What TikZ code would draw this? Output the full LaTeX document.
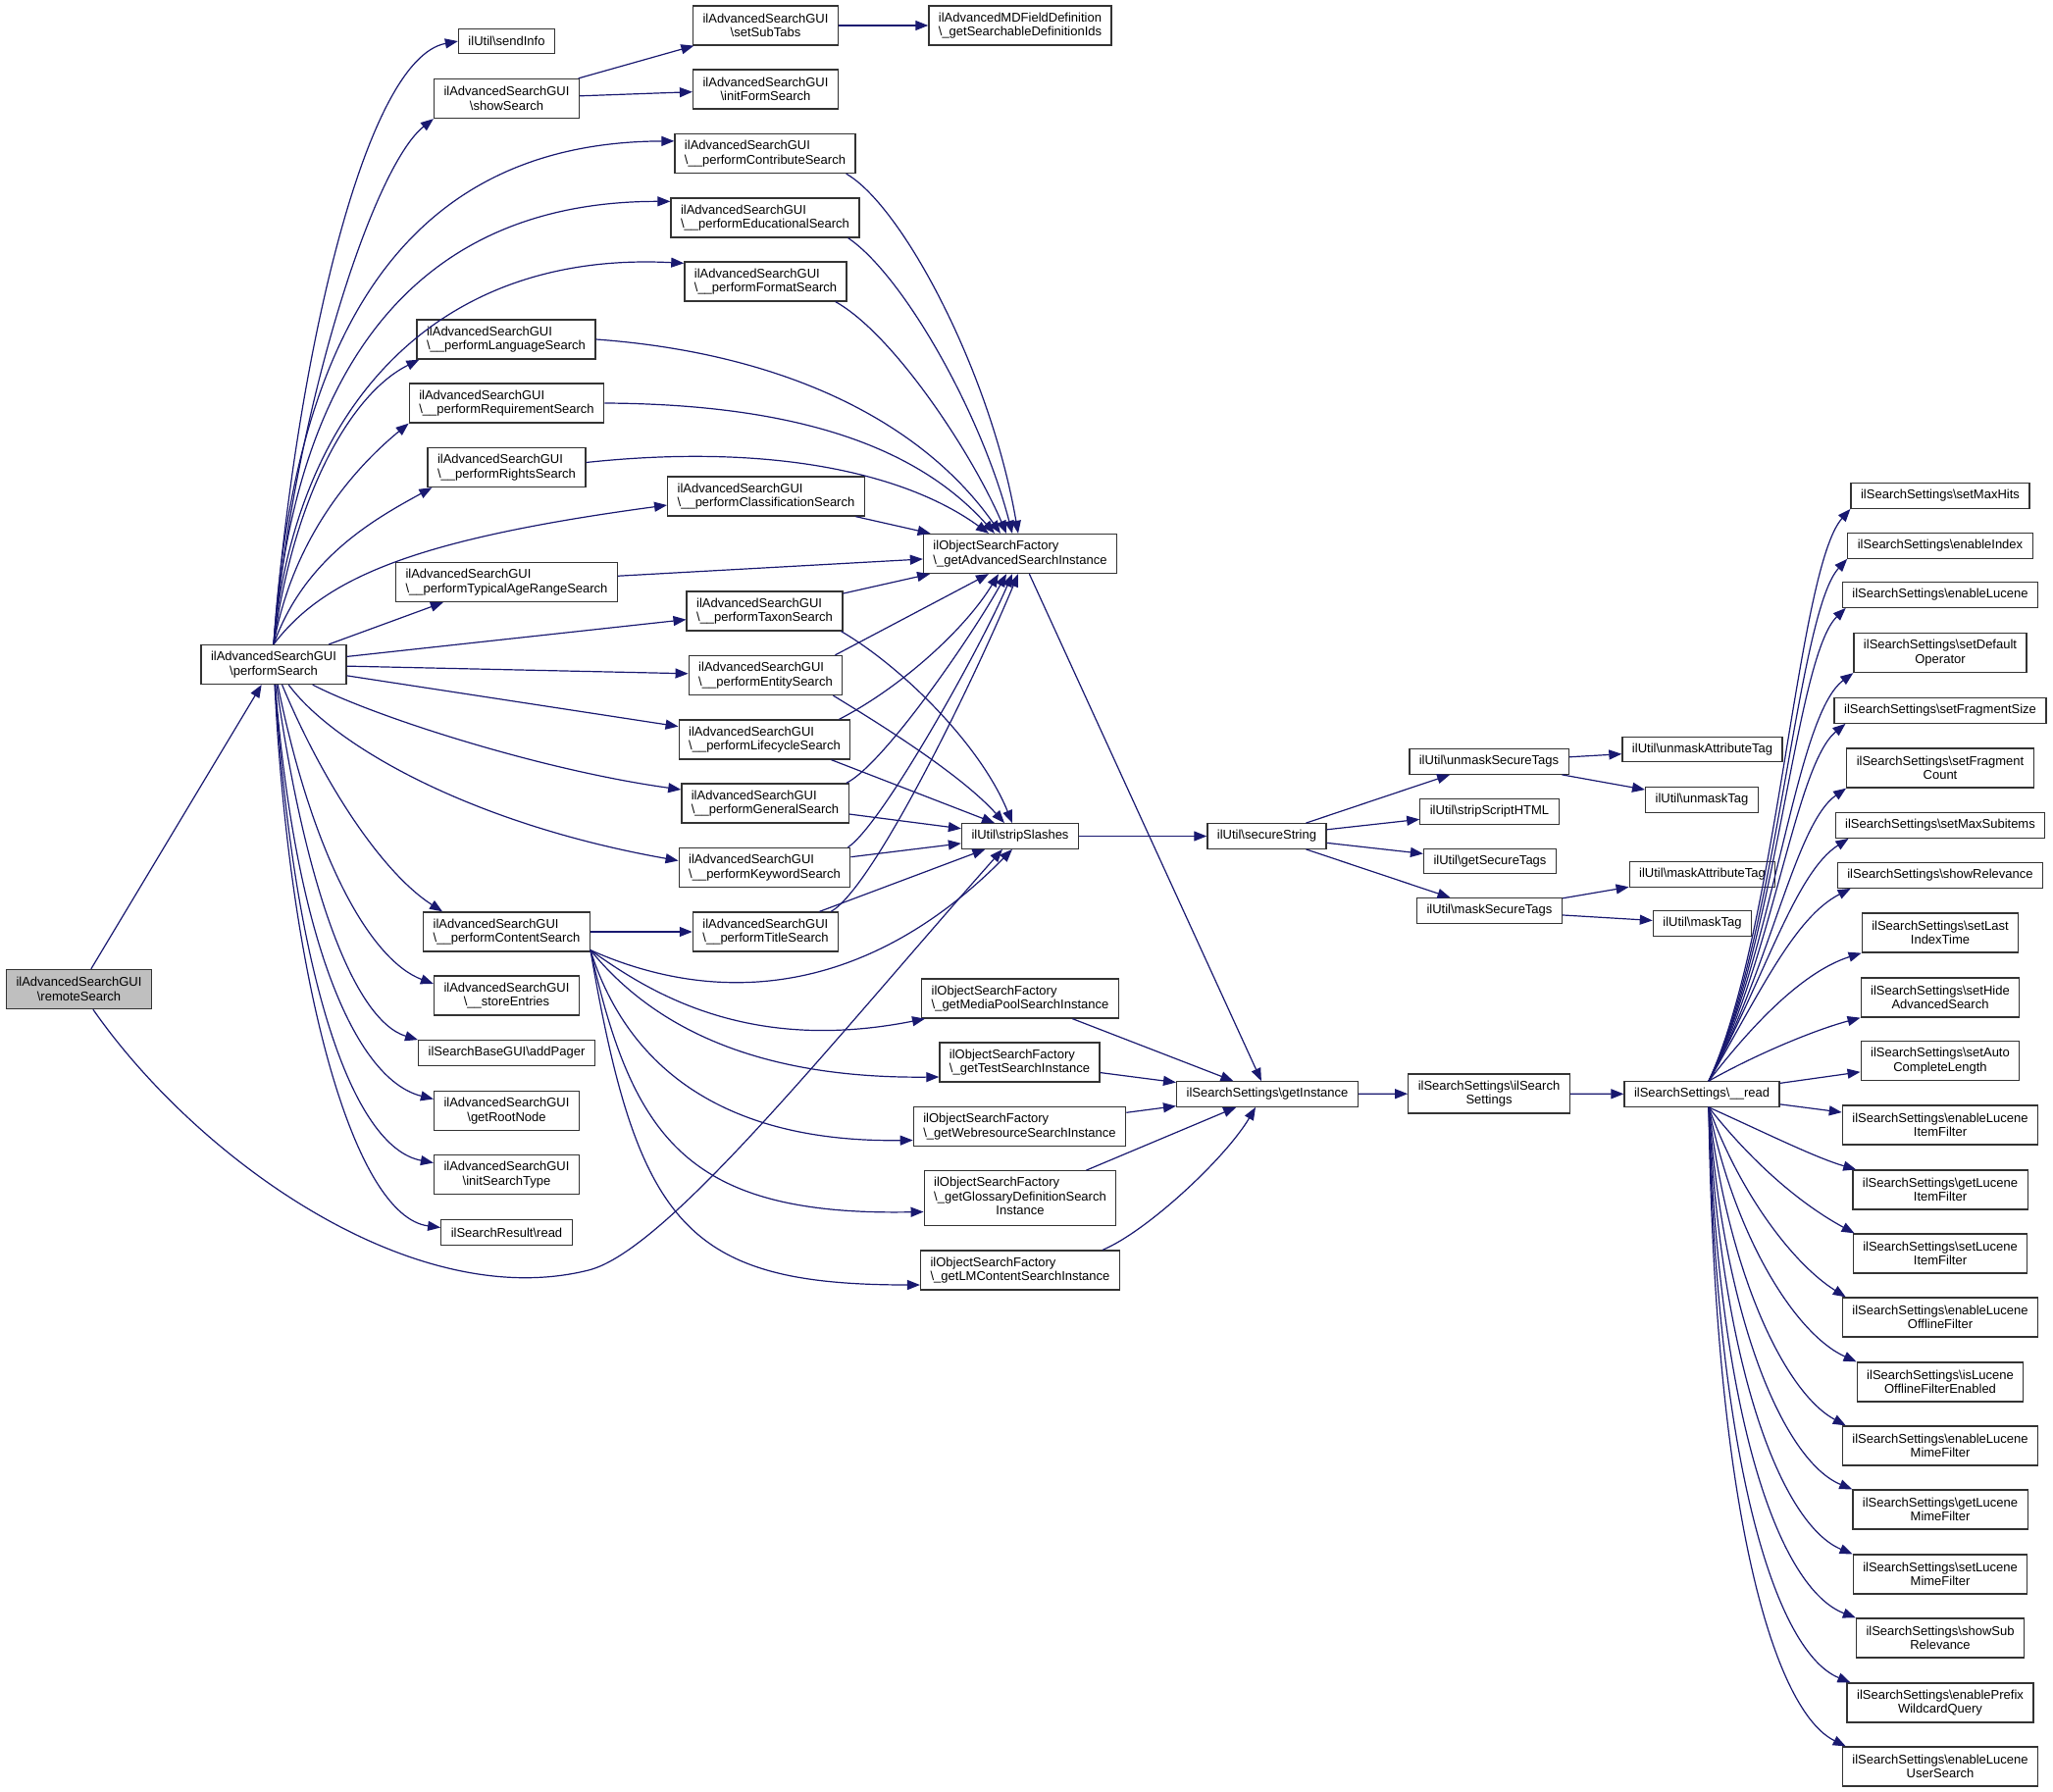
\documentclass[tikz,border=0pt]{standalone}
\usepackage{fontspec}
\setmainfont{Liberation Sans}
\usepackage{tikz}
\usetikzlibrary{arrows.meta}

\definecolor{edgeblue}{RGB}{25,25,112}
\definecolor{boxgray}{RGB}{191,191,191}
\newcommand{\bsl}{\textbackslash}

\tikzset{
  func/.style={draw=black!80, line width=1.3pt, fill=white, align=center,
    font=\fontsize{13pt}{14.5pt}\selectfont, inner xsep=10pt, inner ysep=6pt,
    minimum height=25.5pt},
  lfunc/.style={func, align=left},
  dbl/.style={minimum height=40pt},
  calls/.style={draw=edgeblue, line width=1.2pt, -{Triangle[length=13pt,width=10pt]}}
}

\begin{document}
\begin{tikzpicture}[x=1pt, y=1pt]
        \useasboundingbox (0,0) rectangle (2093,-1827);

        % callers
        \node[func, dbl, fill=boxgray] (rs) at (80.5,-1008.5) {ilAdvancedSearchGUI\\\bsl remoteSearch};
        \node[func, dbl] (ps) at (279,-677.5) {ilAdvancedSearchGUI\\\bsl performSearch};

        % column 2
        \node[func] (si) at (516.5,-42) {ilUtil\bsl sendInfo};
        \node[func, dbl] (ss) at (516.5,-100.5) {ilAdvancedSearchGUI\\\bsl showSearch};
        \node[lfunc, dbl] (plang) at (516,-346) {ilAdvancedSearchGUI\\\bsl\_\_performLanguageSearch};
        \node[lfunc, dbl] (preq) at (516.5,-411) {ilAdvancedSearchGUI\\\bsl\_\_performRequirementSearch};
        \node[lfunc, dbl] (prights) at (516.5,-476.5) {ilAdvancedSearchGUI\\\bsl\_\_performRightsSearch};
        \node[lfunc, dbl] (page) at (516.5,-593.5) {ilAdvancedSearchGUI\\\bsl\_\_performTypicalAgeRangeSearch};
        \node[lfunc, dbl] (pcont) at (516.5,-950) {ilAdvancedSearchGUI\\\bsl\_\_performContentSearch};
        \node[func, dbl] (se) at (516.5,-1015) {ilAdvancedSearchGUI\\\bsl\_\_storeEntries};
        \node[func] (ap) at (516.5,-1073.5) {ilSearchBaseGUI\bsl addPager};
        \node[func, dbl] (grn) at (516.5,-1132.5) {ilAdvancedSearchGUI\\\bsl getRootNode};
        \node[func, dbl] (ist) at (516.5,-1197.5) {ilAdvancedSearchGUI\\\bsl initSearchType};
        \node[func] (srr) at (516.5,-1256.5) {ilSearchResult\bsl read};

        % column 3
        \node[func, dbl] (sst) at (780.5,-26) {ilAdvancedSearchGUI\\\bsl setSubTabs};
        \node[func, dbl] (ifs) at (780.5,-91) {ilAdvancedSearchGUI\\\bsl initFormSearch};
        \node[lfunc, dbl] (pcon) at (780,-156.5) {ilAdvancedSearchGUI\\\bsl\_\_performContributeSearch};
        \node[lfunc, dbl] (pedu) at (780,-222) {ilAdvancedSearchGUI\\\bsl\_\_performEducationalSearch};
        \node[lfunc, dbl] (pfmt) at (780.5,-287) {ilAdvancedSearchGUI\\\bsl\_\_performFormatSearch};
        \node[lfunc, dbl] (pclass) at (781,-506) {ilAdvancedSearchGUI\\\bsl\_\_performClassificationSearch};
        \node[lfunc, dbl] (ptaxon) at (779.5,-623) {ilAdvancedSearchGUI\\\bsl\_\_performTaxonSearch};
        \node[lfunc, dbl] (pentity) at (780.5,-688.5) {ilAdvancedSearchGUI\\\bsl\_\_performEntitySearch};
        \node[lfunc, dbl] (plife) at (779.5,-754) {ilAdvancedSearchGUI\\\bsl\_\_performLifecycleSearch};
        \node[lfunc, dbl] (pgen) at (780,-819) {ilAdvancedSearchGUI\\\bsl\_\_performGeneralSearch};
        \node[lfunc, dbl] (pkey) at (779.5,-884.5) {ilAdvancedSearchGUI\\\bsl\_\_performKeywordSearch};
        \node[lfunc, dbl] (ptitle) at (780.5,-950) {ilAdvancedSearchGUI\\\bsl\_\_performTitleSearch};

        % column 4
        \node[lfunc, dbl] (md) at (1040,-26) {ilAdvancedMDFieldDefinition\\\bsl\_getSearchableDefinitionIds};
        \node[lfunc, dbl] (gasi) at (1040,-564.5) {ilObjectSearchFactory\\\bsl\_getAdvancedSearchInstance};
        \node[func] (strip) at (1040,-852.5) {ilUtil\bsl stripSlashes};
        \node[lfunc, dbl] (gmp) at (1040,-1018) {ilObjectSearchFactory\\\bsl\_getMediaPoolSearchInstance};
        \node[lfunc, dbl] (gts) at (1039.5,-1083) {ilObjectSearchFactory\\\bsl\_getTestSearchInstance};
        \node[lfunc, dbl] (gwr) at (1039.5,-1148.5) {ilObjectSearchFactory\\\bsl\_getWebresourceSearchInstance};
        \node[func] (ggd) at (1040,-1221.5) {\begin{tabular}{@{}l@{}}ilObjectSearchFactory\\\bsl\_getGlossaryDefinitionSearch\\\multicolumn{1}{@{}c@{}}{Instance}\end{tabular}};
        \node[lfunc, dbl] (glm) at (1040,-1295) {ilObjectSearchFactory\\\bsl\_getLMContentSearchInstance};

        % column 5 and 6
        \node[func] (sec) at (1291.5,-852.5) {ilUtil\bsl secureString};
        \node[func] (gi) at (1292,-1115.5) {ilSearchSettings\bsl getInstance};
        \node[func] (ust) at (1518,-776.5) {ilUtil\bsl unmaskSecureTags};
        \node[func] (ssh) at (1518.5,-827.5) {ilUtil\bsl stripScriptHTML};
        \node[func] (gst) at (1519,-878) {ilUtil\bsl getSecureTags};
        \node[func] (mst) at (1518.5,-928.5) {ilUtil\bsl maskSecureTags};
        \node[func, dbl] (sset) at (1518,-1115) {ilSearchSettings\bsl ilSearch\\Settings};

        % column 7
        \node[func] (uat) at (1735.5,-764) {ilUtil\bsl unmaskAttributeTag};
        \node[func] (ut) at (1735,-815.5) {ilUtil\bsl unmaskTag};
        \node[func] (mat) at (1735.5,-891.5) {ilUtil\bsl maskAttributeTag};
        \node[func] (mt) at (1735.5,-941.5) {ilUtil\bsl maskTag};
        \node[func] (rd) at (1735,-1115.5) {ilSearchSettings\bsl\_\_read};

        % settings column
        \node[func] (r1) at (1978,-505.5) {ilSearchSettings\bsl setMaxHits};
        \node[func] (r2) at (1978,-556.5) {ilSearchSettings\bsl enableIndex};
        \node[func] (r3) at (1978,-606.5) {ilSearchSettings\bsl enableLucene};
        \node[func, dbl] (r4) at (1978,-665.5) {ilSearchSettings\bsl setDefault\\Operator};
        \node[func] (r5) at (1978,-724.5) {ilSearchSettings\bsl setFragmentSize};
        \node[func, dbl] (r6) at (1978,-783) {ilSearchSettings\bsl setFragment\\Count};
        \node[func] (r7) at (1978,-841.5) {ilSearchSettings\bsl setMaxSubitems};
        \node[func] (r8) at (1978,-892.5) {ilSearchSettings\bsl showRelevance};
        \node[func, dbl] (r9) at (1978,-951) {ilSearchSettings\bsl setLast\\IndexTime};
        \node[func, dbl] (r10) at (1978,-1017) {ilSearchSettings\bsl setHide\\AdvancedSearch};
        \node[func, dbl] (r11) at (1978,-1081.5) {ilSearchSettings\bsl setAuto\\CompleteLength};
        \node[func, dbl] (r12) at (1978,-1147) {ilSearchSettings\bsl enableLucene\\ItemFilter};
        \node[func, dbl] (r13) at (1978,-1213) {ilSearchSettings\bsl getLucene\\ItemFilter};
        \node[func, dbl] (r14) at (1978,-1278) {ilSearchSettings\bsl setLucene\\ItemFilter};
        \node[func, dbl] (r15) at (1978,-1343) {ilSearchSettings\bsl enableLucene\\OfflineFilter};
        \node[func, dbl] (r16) at (1978,-1409) {ilSearchSettings\bsl isLucene\\OfflineFilterEnabled};
        \node[func, dbl] (r17) at (1978,-1474) {ilSearchSettings\bsl enableLucene\\MimeFilter};
        \node[func, dbl] (r18) at (1978,-1539) {ilSearchSettings\bsl getLucene\\MimeFilter};
        \node[func, dbl] (r19) at (1978,-1605) {ilSearchSettings\bsl setLucene\\MimeFilter};
        \node[func, dbl] (r20) at (1978,-1670) {ilSearchSettings\bsl showSub\\Relevance};
        \node[func, dbl] (r21) at (1978,-1736) {ilSearchSettings\bsl enablePrefix\\WildcardQuery};
        \node[func, dbl] (r22) at (1978,-1801) {ilSearchSettings\bsl enableLucene\\UserSearch};

        \coordinate (dip) at (600,-1295);
        \coordinate (cs) at ([yshift=2pt]pcont.south east);
        \coordinate (rdt) at ([xshift=7pt]rd.north);
        \coordinate (rdb) at ([xshift=7pt]rd.south);

        % remoteSearch
        \draw[calls] (rs) -- (ps);
        \draw[calls] (rs) .. controls (200,-1180) and (420,-1340) .. (dip) .. controls (680,-1275) and (850,-1060) .. ([xshift=-18pt]strip.south);

        % performSearch
        \draw[calls] (ps.north) .. controls (300,-380) and (370,-60) .. (si.west);
        \draw[calls] (ps.north) .. controls (300,-420) and (380,-170) .. (ss.south west);
        \draw[calls] (ps.north) .. controls (300,-330) and (420,-145) .. ([yshift=-8pt]pcon.north west);
        \draw[calls] (ps.north) .. controls (300,-380) and (420,-205) .. ([yshift=-4pt]pedu.north west);
        \draw[calls] (ps.north) .. controls (300,-420) and (440,-255) .. ([yshift=-2pt]pfmt.north west);
        \draw[calls] (ps.north) .. controls (300,-500) and (360,-400) .. ([xshift=3pt]plang.south west);
        \draw[calls] (ps.north) .. controls (300,-540) and (370,-470) .. (preq.south west);
        \draw[calls] (ps.north) .. controls (310,-570) and (380,-530) .. ([xshift=5pt]prights.south west);
        \draw[calls] (ps.north) .. controls (330,-590) and (420,-550) .. ([yshift=-9pt]pclass.west);
        \draw[calls] (ps) -- ([xshift=49pt]page.south west);
        \draw[calls] (ps) -- (ptaxon);
        \draw[calls] (ps) -- (pentity);
        \draw[calls] (ps) -- (plife);
        \draw[calls] (ps) .. controls (380,-730) and (550,-785) .. ([yshift=14pt]pgen.west);
        \draw[calls] (ps) .. controls (340,-760) and (480,-840) .. ([yshift=7pt]pkey.west);
        \draw[calls] (ps) .. controls (330,-800) and (390,-890) .. ([xshift=20pt]pcont.north west);
        \draw[calls] (ps) .. controls (320,-880) and (380,-980) .. ([yshift=12pt]se.west);
        \draw[calls] (ps) .. controls (310,-900) and (360,-1040) .. (ap.north west);
        \draw[calls] (ps) .. controls (300,-950) and (360,-1100) .. ([yshift=12pt]grn.west);
        \draw[calls] (ps) .. controls (300,-1000) and (360,-1170) .. ([yshift=12pt]ist.west);
        \draw[calls] (ps) .. controls (295,-1000) and (360,-1240) .. ([yshift=5pt]srr.west);

        % showSearch
        \draw[calls] (ss) -- (sst);
        \draw[calls] (ss) -- (ifs);
        \draw[calls] (sst) -- (md);

        % into getAdvancedSearchInstance
        \draw[calls] ([xshift=-10pt]pcon.south east) .. controls (920,-210) and (1010,-380) .. ([xshift=-2pt]gasi.north);
        \draw[calls] ([xshift=-12pt]pedu.south east) .. controls (920,-280) and (1000,-420) .. ([xshift=-8pt]gasi.north);
        \draw[calls] ([xshift=-12pt]pfmt.south east) .. controls (910,-340) and (990,-460) .. ([xshift=-14pt]gasi.north);
        \draw[calls] (plang.east) .. controls (800,-360) and (940,-430) .. ([xshift=-20pt]gasi.north);
        \draw[calls] (preq.east) .. controls (800,-412) and (930,-450) .. ([xshift=-26pt]gasi.north);
        \draw[calls] ([yshift=5pt]prights.east) .. controls (780,-452) and (920,-480) .. ([xshift=-32pt]gasi.north);
        \draw[calls] (pclass) -- (gasi);
        \draw[calls] (page) -- (gasi);
        \draw[calls] (ptaxon) -- (gasi);
        \draw[calls] ([xshift=-8pt]pentity.north east) -- ([xshift=-32pt]gasi.south);
        \draw[calls] ([xshift=-12pt]plife.north east) .. controls (920,-700) and (985,-640) .. ([xshift=-22pt]gasi.south);
        \draw[calls] ([xshift=-3pt]pgen.north east) .. controls (900,-780) and (990,-650) .. ([xshift=-14pt]gasi.south);
        \draw[calls] ([xshift=-3pt]pkey.north east) .. controls (900,-840) and (1000,-660) .. ([xshift=-8pt]gasi.south);
        \draw[calls] ([xshift=-8pt]ptitle.north east) .. controls (890,-905) and (990,-700) .. ([xshift=-2pt]gasi.south);

        % into stripSlashes
        \draw[calls] ([xshift=-2pt]ptaxon.south east) .. controls (920,-680) and (1000,-760) .. ([xshift=-8pt]strip.north);
        \draw[calls] ([xshift=-10pt]pentity.south east) .. controls (900,-740) and (980,-790) .. ([xshift=-16pt]strip.north);
        \draw[calls] ([xshift=-20pt]plife.south east) -- ([xshift=-26pt]strip.north);
        \draw[calls] (pgen) -- (strip);
        \draw[calls] (pkey) -- (strip);
        \draw[calls] (ptitle) -- (strip);
        \draw[calls] (cs) .. controls (740,-1030) and (890,-1010) .. ([xshift=-8pt]strip.south);

        % performContentSearch
        \draw[calls] (pcont) -- (ptitle);
        \draw[calls] (cs) .. controls (660,-1010) and (760,-1075) .. ([xshift=4pt]gmp.south west);
        \draw[calls] (cs) .. controls (660,-1040) and (760,-1100) .. ([yshift=-15pt]gts.west);
        \draw[calls] (cs) .. controls (640,-1090) and (740,-1165) .. ([yshift=-14pt]gwr.west);
        \draw[calls] (cs) .. controls (645,-1160) and (700,-1240) .. ([yshift=-14pt]ggd.west);
        \draw[calls] (cs) .. controls (650,-1250) and (700,-1310) .. ([yshift=-15pt]glm.west);

        % getInstance
        \draw[calls] (gasi) -- (gi);
        \draw[calls] (gmp) -- (gi);
        \draw[calls] (gts) -- (gi);
        \draw[calls] (gwr) -- (gi);
        \draw[calls] (ggd) -- (gi);
        \draw[calls] ([xshift=-18pt]glm.north east) .. controls (1170,-1255) and (1250,-1180) .. ([xshift=-12pt]gi.south);
        \draw[calls] (gi) -- (sset);
        \draw[calls] (sset) -- (rd);

        % secureString
        \draw[calls] (strip) -- (sec);
        \draw[calls] (sec) -- (ust);
        \draw[calls] (sec) -- (ssh);
        \draw[calls] (sec) -- (gst);
        \draw[calls] (sec) -- (mst);
        \draw[calls] (ust) -- (uat);
        \draw[calls] (ust) -- (ut);
        \draw[calls] (mst) -- (mat);
        \draw[calls] (mst) -- (mt);

        % __read
        \draw[calls] (rdt) .. controls (1812,-950) and (1832,-580) .. (r1.south west);
        \draw[calls] (rdt) .. controls (1812,-955) and (1832,-625) .. (r2.south west);
        \draw[calls] (rdt) .. controls (1812,-960) and (1830,-670) .. ([xshift=4pt]r3.south west);
        \draw[calls] (rdt) .. controls (1810,-965) and (1830,-730) .. (r4.south west);
        \draw[calls] (rdt) .. controls (1808,-975) and (1830,-780) .. ([xshift=12pt]r5.south west);
        \draw[calls] (rdt) .. controls (1805,-985) and (1830,-840) .. (r6.south west);
        \draw[calls] (rdt) .. controls (1800,-995) and (1830,-890) .. ([xshift=14pt]r7.south west);
        \draw[calls] (rdt) .. controls (1795,-1010) and (1830,-935) .. ([xshift=14pt]r8.south west);
        \draw[calls] (rdt) .. controls (1790,-1040) and (1840,-990) .. (r9.south west);
        \draw[calls] (rdt) .. controls (1790,-1075) and (1850,-1050) .. (r10.south west);
        \draw[calls] (rd) -- (r11);
        \draw[calls] (rd) -- (r12);
        \draw[calls] (rdb) .. controls (1800,-1155) and (1850,-1180) .. ([xshift=4pt]r13.north west);
        \draw[calls] (rdb) .. controls (1790,-1190) and (1840,-1230) .. ([xshift=2pt]r14.north west);
        \draw[calls] (rdb) .. controls (1775,-1220) and (1830,-1290) .. ([xshift=4pt]r15.north west);
        \draw[calls] (rdb) .. controls (1768,-1260) and (1830,-1360) .. (r16.north west);
        \draw[calls] (rdb) .. controls (1762,-1300) and (1820,-1420) .. ([xshift=4pt]r17.north west);
        \draw[calls] (rdb) .. controls (1758,-1350) and (1820,-1490) .. (r18.north west);
        \draw[calls] (rdb) .. controls (1755,-1400) and (1818,-1555) .. (r19.north west);
        \draw[calls] (rdb) .. controls (1752,-1450) and (1815,-1620) .. (r20.north west);
        \draw[calls] (rdb) .. controls (1750,-1500) and (1812,-1685) .. ([xshift=4pt]r21.north west);
        \draw[calls] (rdb) .. controls (1748,-1550) and (1810,-1745) .. ([xshift=4pt]r22.north west);
    \end{tikzpicture}
\end{document}
